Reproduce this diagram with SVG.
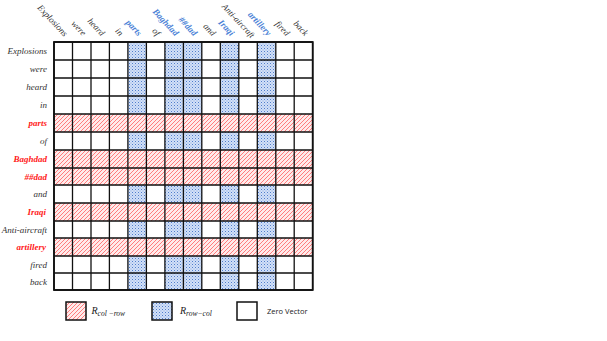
<svg xmlns="http://www.w3.org/2000/svg" width="607" height="341" viewBox="0 0 607 341">
<style>
.lbl{font-family:"Liberation Serif","Times New Roman",serif;font-style:italic;font-size:9px;fill:#333}
.hl{font-weight:bold;fill:#ff1a1a}
.hb{font-weight:bold;fill:#4a7fd6}
.grid{fill:none;stroke:#111;stroke-width:1.3}
.leg{stroke:#111;stroke-width:1.5}
.math{font-family:"Liberation Serif","DejaVu Serif",serif;font-style:italic;fill:#222}
.zv{font-family:"Open Sans","Liberation Sans",sans-serif;font-size:7.5px;fill:#222}
</style>
<defs>
<pattern id="red" width="4" height="4" patternUnits="userSpaceOnUse">
<rect width="4" height="4" fill="#ffeaea"/>
<path d="M0,4 L4,0 M-1,1 L1,-1 M3,5 L5,3" stroke="#ff6f6f" stroke-width="0.9"/>
</pattern>
<pattern id="blue" width="3" height="3" patternUnits="userSpaceOnUse">
<rect width="3" height="3" fill="#d3e0f7"/>
<rect x="0" y="0" width="1" height="1" fill="#4f7ecc"/>
<rect x="1.5" y="1.5" width="1" height="1" fill="#86a8e2"/>
</pattern>
</defs>
<rect width="607" height="341" fill="#fff"/>

<g id="matrix">
<rect x="54" y="42" width="258.7" height="248" fill="#fff"/>
<g id="blue-columns" fill="url(#blue)">
<rect x="127.9" y="42" width="18.5" height="248"/>
<rect x="164.9" y="42" width="37" height="248"/>
<rect x="220.3" y="42" width="18.5" height="248"/>
<rect x="257.3" y="42" width="18.5" height="248"/>
</g>
<g id="red-rows" fill="url(#red)">
<rect x="54" y="114" width="258.7" height="18"/>
<rect x="54" y="150" width="258.7" height="35"/>
<rect x="54" y="203" width="258.7" height="18"/>
<rect x="54" y="238" width="258.7" height="18"/>
</g>
<path class="grid" d="M54,42V290M72.5,42V290M91,42V290M109.4,42V290M127.9,42V290M146.4,42V290M164.9,42V290M183.4,42V290M201.8,42V290M220.3,42V290M238.8,42V290M257.3,42V290M275.8,42V290M294.2,42V290M312.7,42V290
M54,42H312.7M54,60H312.7M54,78H312.7M54,96H312.7M54,114H312.7M54,132H312.7M54,150H312.7M54,168H312.7M54,185H312.7M54,203H312.7M54,221H312.7M54,238H312.7M54,256H312.7M54,273H312.7M54,290H312.7"/>
<rect x="54" y="42" width="258.7" height="248" fill="none" stroke="#111" stroke-width="1.8"/>
</g>

<g id="row-labels" class="lbl" text-anchor="end">
<text x="47" y="54">Explosions</text>
<text x="47" y="72">were</text>
<text x="47" y="90">heard</text>
<text x="47" y="108">in</text>
<text x="47" y="126" class="hl">parts</text>
<text x="47" y="144">of</text>
<text x="47" y="162" class="hl">Baghdad</text>
<text x="47" y="179.5" class="hl">##dad</text>
<text x="47" y="197">and</text>
<text x="46" y="215" class="hl">Iraqi</text>
<text x="47" y="232.5">Anti-aircraft</text>
<text x="46" y="250" class="hl">artillery</text>
<text x="47" y="267.5">fired</text>
<text x="47" y="284.5">back</text>
</g>

<g id="col-labels" class="lbl" text-anchor="end">
<text transform="translate(64,37) rotate(47)">Explosions</text>
<text transform="translate(82.5,36.5) rotate(47)">were</text>
<text transform="translate(101,36.5) rotate(47)">heard</text>
<text transform="translate(119.5,36.5) rotate(47)">in</text>
<text transform="translate(138,36.5) rotate(47)" class="hb">parts</text>
<text transform="translate(156.5,36.5) rotate(47)">of</text>
<text transform="translate(175,36.5) rotate(47)" class="hb">Baghdad</text>
<text transform="translate(193.5,36.5) rotate(47)" class="hb">##dad</text>
<text transform="translate(212,36.5) rotate(47)">and</text>
<text transform="translate(230.5,36.5) rotate(47)" class="hb">Iraqi</text>
<text transform="translate(251,38.5) rotate(47)" font-size="8.6">Anti-aircraft</text>
<text transform="translate(267.5,36.5) rotate(47)" class="hb">artillery</text>
<text transform="translate(286,36.5) rotate(47)">fired</text>
<text transform="translate(304.5,36.5) rotate(47)">back</text>
</g>

<g id="legend">
<g id="legend-col-row">
<rect class="leg" x="66" y="302" width="20" height="18" fill="url(#red)"/>
<text class="math" x="91.5" y="314" font-size="10">R<tspan font-size="7.5" dy="1.5">col −row</tspan></text>
</g>
<g id="legend-row-col">
<rect class="leg" x="152" y="302" width="20" height="18" fill="url(#blue)"/>
<text class="math" x="180" y="314" font-size="10">R<tspan font-size="7.5" dy="1.5">row−col</tspan></text>
</g>
<g id="legend-zero">
<rect class="leg" x="237" y="302" width="20" height="18" fill="#fff"/>
<text class="zv" x="267" y="314">Zero Vector</text>
</g>
</g>
</svg>
